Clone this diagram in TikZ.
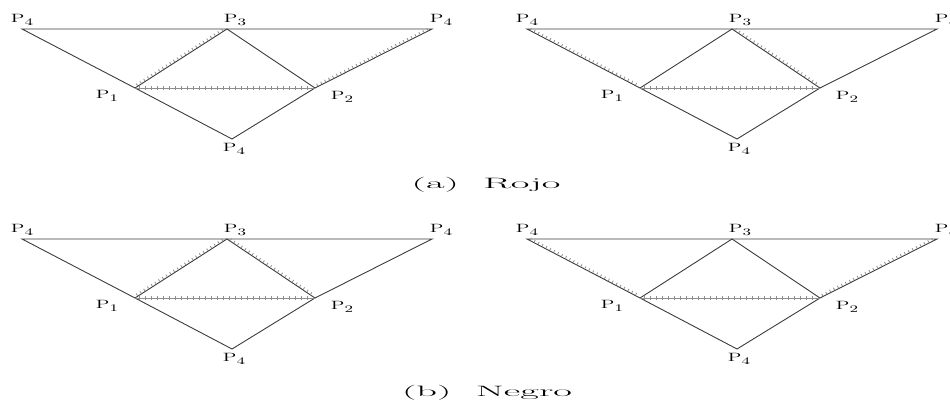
\documentclass[tikz,border=0pt]{standalone}
\usetikzlibrary{calc}
\definecolor{edgeGray}{HTML}{3C3C3C}
\definecolor{hatchGray}{HTML}{8E8E8E}
\newcommand{\plab}[1]{\scalebox{1.7}[1]{P\raisebox{-0.45ex}{\fontsize{10}{11}\selectfont #1}}}

\begin{document}
\begin{tikzpicture}[
  x=1pt, y=-1pt,
  edge/.style={draw=edgeGray, line width=0.9pt, line join=miter},
  hatch/.style={draw=hatchGray, line width=2.4pt, dash pattern=on 0.8pt off 3.6pt,
                shorten <=3pt, shorten >=3pt},
  crossticks/.style={draw=hatchGray, line width=3.2pt, dash pattern=on 0.9pt off 5.1pt,
                shorten <=4pt, shorten >=3pt},
  lab/.style={inner sep=0pt, font=\fontsize{12}{14}\selectfont},
  caption/.style={inner sep=0pt, anchor=base, font=\fontsize{15}{18}\selectfont}
]
\useasboundingbox (0,0) rectangle (950,401);
% four copies of the same figure
\foreach \p/\dx/\dy in {al/0/0, ar/505/0, bl/0/210, br/505/210}{
  \begin{scope}[shift={(\dx,\dy)}]
    \coordinate (\p-l4) at (22,29);
    \coordinate (\p-p3) at (227,29);
    \coordinate (\p-r4) at (432,29);
    \coordinate (\p-p1) at (135,88);
    \coordinate (\p-p2) at (315,88);
    \coordinate (\p-b4) at (232,139);
    \node[lab] (\p-n4l) at (22,20) {\plab{4}};
    \node[lab] (\p-n3) at (235,20) {\plab{3}};
    \node[lab] (\p-n4r) at (441,20) {\plab{4}};
    \node[lab] (\p-n1) at (107,96) {\plab{1}};
    \node[lab] (\p-n2) at (342,97) {\plab{2}};
    \node[lab] (\p-n4b) at (234,149) {\plab{4}};
  \end{scope}
  \draw[edge] (\p-l4) -- (\p-p3) -- (\p-r4) -- (\p-p2) -- (\p-b4) -- (\p-p1) -- cycle;
  \draw[edge] (\p-p1) -- (\p-p3) -- (\p-p2);
  \draw[hatchGray, line width=0.9pt] (\p-p1) -- (\p-p2);
  \draw[crossticks] (\p-p1) -- (\p-p2);
}
% one-sided hatching
\draw[hatch] ($(al-p1)!1.8pt!90:(al-p3)$) -- ($(al-p3)!1.8pt!-90:(al-p1)$);
\draw[hatch] ($(al-p2)!1.8pt!90:(al-r4)$) -- ($(al-r4)!1.8pt!-90:(al-p2)$);
\draw[hatch] ($(ar-l4)!1.8pt!90:(ar-p1)$) -- ($(ar-p1)!1.8pt!-90:(ar-l4)$);
\draw[hatch] ($(ar-p3)!1.8pt!90:(ar-p2)$) -- ($(ar-p2)!1.8pt!-90:(ar-p3)$);
\draw[hatch] ($(bl-p1)!1.8pt!90:(bl-p3)$) -- ($(bl-p3)!1.8pt!-90:(bl-p1)$);
\draw[hatch] ($(bl-p3)!1.8pt!90:(bl-p2)$) -- ($(bl-p2)!1.8pt!-90:(bl-p3)$);
\draw[hatch] ($(br-l4)!1.8pt!90:(br-p1)$) -- ($(br-p1)!1.8pt!-90:(br-l4)$);
\draw[hatch] ($(br-p2)!1.8pt!90:(br-r4)$) -- ($(br-r4)!1.8pt!-90:(br-p2)$);
% captions
\node[caption] (capa) at (486,188) {\scalebox{2.7}[1]{(a)\ \ Rojo}};
\node[caption] (capb) at (487,396) {\scalebox{2.7}[1]{(b)\ \ Negro}};
\end{tikzpicture}
\end{document}
